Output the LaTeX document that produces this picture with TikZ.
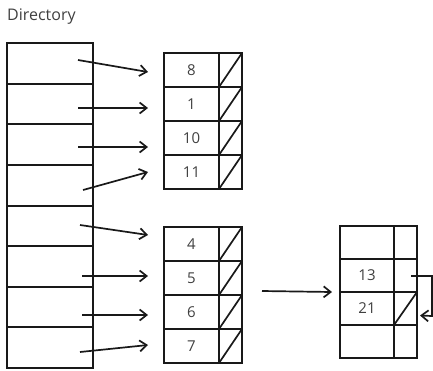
\documentclass[tikz,border=0pt]{standalone}
\usepackage{fontspec}
\setmainfont{Open Sans}
\usetikzlibrary{arrows.meta}
\begin{document}
\begin{tikzpicture}[x=1pt,y=-1pt,
  box/.style={draw=black!90,line width=2pt,inner sep=0pt,outer sep=0pt,anchor=north west},
  dircell/.style={box,minimum width=86pt,minimum height=#1},
  keycell/.style={box,minimum width=55pt,minimum height=34pt,text=black!75,font=\fontsize{15}{17}\selectfont},
  ptrcell/.style={box,minimum width=23pt,minimum height=34pt},
  keycellc/.style={keycell,minimum width=54pt,minimum height=33pt},
  ptrcellc/.style={ptrcell,minimum height=33pt},
  nil/.style={draw=black!90,line width=1.7pt},
  link/.style={draw=black!90,line width=1.7pt,-{Straight Barb[length=7pt,width=11pt,line width=1.7pt]}},
  lbl/.style={font=\fontsize{16}{18}\selectfont,text=black!75,anchor=west,inner sep=0pt}]
\useasboundingbox (0,0) rectangle (433,370);

% title
\node[lbl] (title) at (7,17) {Directory};

% directory slots
\foreach \t/\h [count=\i] in {43/41,84/40,124/41,165/41,206/40,246/41,287/40,327/41}
  \node[dircell=\h] (d\i) at (7,\t) {};

% first bucket
\foreach \k [count=\i] in {8,1,10,11} {
  \node[keycell] (ka\i) at (164,{53+(\i-1)*34}) {\k};
  \node[ptrcell] (pa\i) at (219,{53+(\i-1)*34}) {};
  \draw[nil] (pa\i.south west) -- (pa\i.north east);
}

% second bucket
\foreach \k [count=\i] in {4,5,6,7} {
  \node[keycell] (kb\i) at (164,{227+(\i-1)*34}) {\k};
  \node[ptrcell] (pb\i) at (219,{227+(\i-1)*34}) {};
  \draw[nil] (pb\i.south west) -- (pb\i.north east);
}

% overflow bucket
\foreach \k [count=\i] in {{},13,21,{}} {
  \node[keycellc] (kc\i) at (340,{226+(\i-1)*33}) {\k};
  \node[ptrcellc] (pc\i) at (394,{226+(\i-1)*33}) {};
}
\draw[nil] (pc3.south west) -- (pc3.north east);

% pointer ends
\coordinate (s1) at (78,60);   \coordinate (e1) at (148,72);
\coordinate (s2) at (78,108);  \coordinate (e2) at (148,108);
\coordinate (s3) at (78,147);  \coordinate (e3) at (148,147);
\coordinate (s4) at (83,190);  \coordinate (e4) at (148,172);
\coordinate (s5) at (80,225);  \coordinate (e5) at (148,235);
\coordinate (s6) at (82,276);  \coordinate (e6) at (148,276);
\coordinate (s7) at (82,315);  \coordinate (e7) at (148,315);
\coordinate (s8) at (80,352);  \coordinate (e8) at (148,345);
\foreach \i in {1,...,8}
  \draw[link] (s\i) -- (e\i);

% bucket 2 overflows into bucket 3
\coordinate (s9) at (262,291);
\draw[link] (s9) -- ([xshift=-8pt]kc3.north west);

% chain from entry 13 to entry 21
\coordinate (c1) at (411,276);
\coordinate (c2) at (432,276);
\coordinate (c3) at (432,316);
\draw[link] (c1) -- (c2) -- (c3) -- ([xshift=3pt,yshift=-7pt]pc3.east);
\end{tikzpicture}
\end{document}
